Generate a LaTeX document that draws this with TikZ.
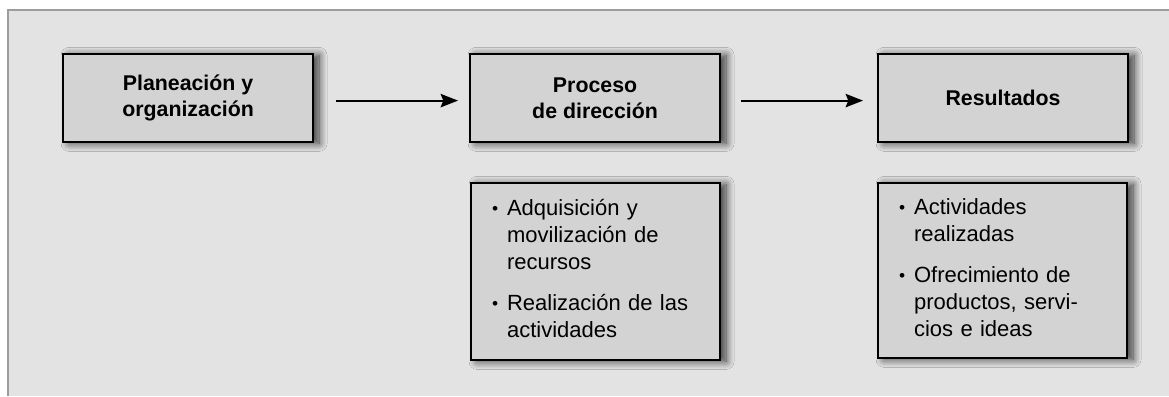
\documentclass[tikz,border=0pt]{standalone}
\usepackage{fontspec}
\setmainfont{Liberation Sans}
\usetikzlibrary{shadows.blur,arrows.meta}
\definecolor{bgc}{HTML}{E3E3E3}
\definecolor{boxc}{HTML}{D3D3D3}
\definecolor{framec}{HTML}{9C9C9C}
\newcommand{\bul}{\makebox[11.25pt][l]{\fontsize{13}{13}\selectfont\raisebox{0.8pt}{•}}}
\begin{document}
\begin{tikzpicture}[x=0.75pt,y=-0.75pt,
  box/.style={draw=black, line width=1.6pt, fill=boxc, inner sep=0pt,
    blur shadow={shadow xshift=4.5pt, shadow yshift=-1pt, shadow blur radius=6pt, shadow blur steps=12, shadow opacity=75}},
  titlebox/.style={box, anchor=north west, minimum width=187.5pt, minimum height=66pt,
    font=\fontsize{16}{19.5}\selectfont\bfseries, align=center},
  listbox/.style={box, anchor=north west, minimum width=186.75pt, text width=155.25pt,
    inner xsep=15.75pt, font=\fontsize{16.5}{20.25}\selectfont, align=left},
  arr/.style={line width=1.6pt, -{Stealth[length=13pt, width=10pt, inset=2pt]}}]
\useasboundingbox (0,0) rectangle (1169,396);
\fill[white] (0,0) rectangle (1169,396);
\fill[bgc] (8,10) rectangle (1169,396);
\draw[framec, line width=1.8pt] (8,396) -- (8,10) -- (1169,10);

\node[titlebox] (b1) at (62,53) {Planeación y\\organización};
\node[titlebox] (b2) at (469,53) {Proceso\\de dirección};
\node[titlebox] (b3) at (877,53) {Resultados};

\node[listbox, minimum height=132.75pt] (l2) at (470,182) {%
\begin{tabular}{@{}l@{}l@{}}
\bul & Adquisición y\\
 & movilización de\\
 & recursos\\[10.5pt]
\bul & Realización de las\\
 & actividades
\end{tabular}};
\node[listbox, minimum height=131.25pt] (l3) at (877,182) {%
\begin{tabular}{@{}l@{}l@{}}
\bul & Actividades\\
 & realizadas\\[10.5pt]
\bul & Ofrecimiento de\\
 & productos, servi-\\
 & cios e ideas
\end{tabular}};

\draw[arr, shorten <=16.5pt, shorten >=8.25pt] ([yshift=-1.9pt]b1.east) -- ([yshift=-1.9pt]b2.west);
\draw[arr, shorten <=15pt, shorten >=10.5pt] ([yshift=-1.9pt]b2.east) -- ([yshift=-1.9pt]b3.west);
\end{tikzpicture}
\end{document}
